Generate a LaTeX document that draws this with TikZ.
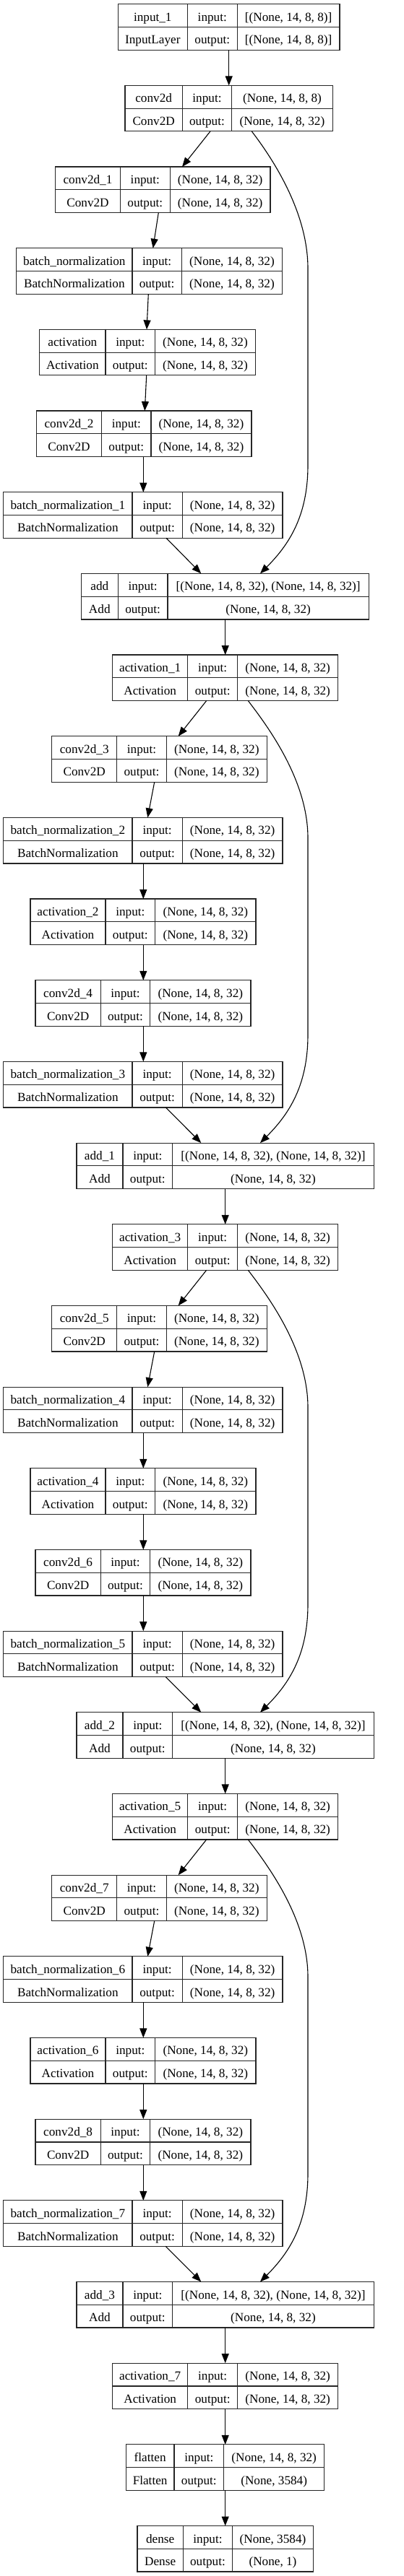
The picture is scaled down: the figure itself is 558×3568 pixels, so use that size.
\documentclass[tikz,border=0pt]{standalone}
\usepackage{fontspec}
\setmainfont{Liberation Serif}
\usetikzlibrary{arrows.meta,calc}
\tikzset{
  kframe/.style={draw=black!85, line width=1.2pt, inner sep=0pt, outer sep=0pt, rectangle},
  ktext/.style={inner sep=0pt, font=\fontsize{17.2}{20}\selectfont, anchor=base},
  kline/.style={draw=black!85, line width=1.2pt},
  karrow/.style={line width=1.1pt, -{Triangle[length=13pt,width=10pt]}},
}
\def\kparse#1,#2,#3,#4\relax{\def\kL{#1}\def\kA{#2}\def\kB{#3}\def\kR{#4}}
\newcommand\kbox[7]{%
  \kparse#3\relax
  \pgfmathsetmacro\kT{5.7+112.67*#2}%
  \pgfmathsetmacro\kM{\kT+31.75}%
  \pgfmathsetmacro\kBt{\kT+63.5}%
  \pgfmathsetmacro\kW{\kR-\kL}%
  \node[kframe, minimum width=\kW pt, minimum height=63.5pt] (#1) at ({(\kL+\kR)/2},{\kT+31.75}) {};
  \draw[kline] (\kL,\kM) -- (\kR,\kM) (\kA,\kT) -- (\kA,\kBt) (\kB,\kT) -- (\kB,\kBt);
  \node[ktext] (#1-n) at ({(\kL+\kA)/2},{\kT+23.5}) {#4};
  \node[ktext] (#1-c) at ({(\kL+\kA)/2},{\kM+23.5}) {#5};
  \node[ktext] (#1-i) at ({(\kA+\kB)/2},{\kT+23.5}) {input:};
  \node[ktext] (#1-o) at ({(\kA+\kB)/2},{\kM+23.5}) {output:};
  \node[ktext] (#1-s) at ({(\kB+\kR)/2},{\kT+23.5}) {#6};
  \node[ktext] (#1-t) at ({(\kB+\kR)/2},{\kM+23.5}) {#7};
}
\newcommand\kconn[4]{\draw[karrow] (#2,0 |- #1.south) -- (#4,0 |- #3.north);}
\newcommand\kskip[3]{\draw[karrow] (#2,0 |- #1.south) .. controls +(26.7,35) and +(0,-80) .. ($(426,0 |- #1.south)+(0,190)$) -- ($(426,0 |- #3.north)+(0,-150)$) .. controls +(0,70) and +(40,-40) .. (360,0 |- #3.north);}
\def\sA{(None, 14, 8, 32)}
\def\sB{[(None, 14, 8, 32), (None, 14, 8, 32)]}
\begin{document}
\begin{tikzpicture}[x=1pt,y=-1pt]
\fill[white] (0,0) rectangle (558,3568);
\useasboundingbox (0,0) rectangle (558,3568);
\kbox{n0}{0}{163.3,259.3,328.3,470}{input\_1}{InputLayer}{[(None, 14, 8, 8)]}{[(None, 14, 8, 8)]}
\kbox{n1}{1}{173,252.3,320.7,460.3}{conv2d}{Conv2D}{(None, 14, 8, 8)}{\sA}
\kbox{n2}{2}{76.7,166.3,235.3,374}{conv2d\_1}{Conv2D}{\sA}{\sA}
\kbox{n3}{3}{22.7,183,251.3,390.7}{batch\_normalization}{BatchNormalization}{\sA}{\sA}
\kbox{n4}{4}{54.7,146,214.7,353.3}{activation}{Activation}{\sA}{\sA}
\kbox{n5}{5}{50.3,140.7,209,348}{conv2d\_2}{Conv2D}{\sA}{\sA}
\kbox{n6}{6}{4.7,183,252.3,391}{batch\_normalization\_1}{BatchNormalization}{\sA}{\sA}
\kbox{n7}{7}{112.3,163.3,232,510.3}{add}{Add}{\sB}{\sA}
% block 1
\kbox{n8}{8}{155.7,259.7,328.7,467.7}{activation\_1}{Activation}{\sA}{\sA}
\kbox{n9}{9}{71.7,161.7,230.3,369.3}{conv2d\_3}{Conv2D}{\sA}{\sA}
\kbox{n10}{10}{4.7,183,252.3,391}{batch\_normalization\_2}{BatchNormalization}{\sA}{\sA}
\kbox{n11}{11}{42,146,214.7,354}{activation\_2}{Activation}{\sA}{\sA}
\kbox{n12}{12}{49,139.3,207.7,347}{conv2d\_4}{Conv2D}{\sA}{\sA}
\kbox{n13}{13}{4.7,183,252.3,391}{batch\_normalization\_3}{BatchNormalization}{\sA}{\sA}
\kbox{n14}{14}{106,170,238.7,517.3}{add\_1}{Add}{\sB}{\sA}
% block 2
\kbox{n15}{15}{155.7,259.7,328.7,467.7}{activation\_3}{Activation}{\sA}{\sA}
\kbox{n16}{16}{71.7,161.7,230.3,369.3}{conv2d\_5}{Conv2D}{\sA}{\sA}
\kbox{n17}{17}{4.7,183,252.3,391}{batch\_normalization\_4}{BatchNormalization}{\sA}{\sA}
\kbox{n18}{18}{42,146,214.7,354}{activation\_4}{Activation}{\sA}{\sA}
\kbox{n19}{19}{49,139.3,207.7,347}{conv2d\_6}{Conv2D}{\sA}{\sA}
\kbox{n20}{20}{4.7,183,252.3,391}{batch\_normalization\_5}{BatchNormalization}{\sA}{\sA}
\kbox{n21}{21}{106,170,238.7,517.3}{add\_2}{Add}{\sB}{\sA}
% block 3
\kbox{n22}{22}{155.7,259.7,328.7,467.7}{activation\_5}{Activation}{\sA}{\sA}
\kbox{n23}{23}{71.7,161.7,230.3,369.3}{conv2d\_7}{Conv2D}{\sA}{\sA}
\kbox{n24}{24}{4.7,183,252.3,391}{batch\_normalization\_6}{BatchNormalization}{\sA}{\sA}
\kbox{n25}{25}{42,146,214.7,354}{activation\_6}{Activation}{\sA}{\sA}
\kbox{n26}{26}{49,139.3,207.7,347}{conv2d\_8}{Conv2D}{\sA}{\sA}
\kbox{n27}{27}{4.7,183,252.3,391}{batch\_normalization\_7}{BatchNormalization}{\sA}{\sA}
\kbox{n28}{28}{106,170,238.7,517.3}{add\_3}{Add}{\sB}{\sA}
% tail
\kbox{n29}{29}{155.7,259.7,328.7,467.7}{activation\_7}{Activation}{\sA}{\sA}
\kbox{n30}{30}{174.3,241,309.7,448.7}{flatten}{Flatten}{\sA}{(None, 3584)}
\kbox{n31}{31}{190,253.3,321.7,433.3}{dense}{Dense}{(None, 3584)}{(None, 1)}
% connectors
\kconn{n0}{316.7}{n1}{316.7}
\kconn{n1}{291}{n2}{252}
\kskip{n1}{348.3}{n7}
\kconn{n2}{219.3}{n3}{211.7}
\kconn{n3}{205.3}{n4}{203}
\kconn{n4}{202.7}{n5}{200.3}
\kconn{n5}{198.3}{n6}{198.3}
\kconn{n6}{230}{n7}{278.3}
\kconn{n7}{311.7}{n8}{311.7}
\foreach \b [evaluate=\b as \c using int(\b+1), evaluate=\b as \d using int(\b+2),
  evaluate=\b as \e using int(\b+3), evaluate=\b as \f using int(\b+4),
  evaluate=\b as \g using int(\b+5), evaluate=\b as \h using int(\b+6),
  evaluate=\b as \k using int(\b+7)] in {8,15,22}{
  \kconn{n\b}{285.7}{n\c}{246.7}
  \kskip{n\b}{343.3}{n\h}
  \kconn{n\c}{213.7}{n\d}{204.3}
  \kconn{n\d}{198.3}{n\e}{198.3}
  \kconn{n\e}{198.3}{n\f}{198.3}
  \kconn{n\f}{198.3}{n\g}{198.3}
  \kconn{n\g}{229.3}{n\h}{278.3}
  \kconn{n\h}{311.7}{n\k}{311.7}
}
\kconn{n29}{311.7}{n30}{311.7}
\kconn{n30}{311.7}{n31}{311.7}
\end{tikzpicture}
\end{document}
